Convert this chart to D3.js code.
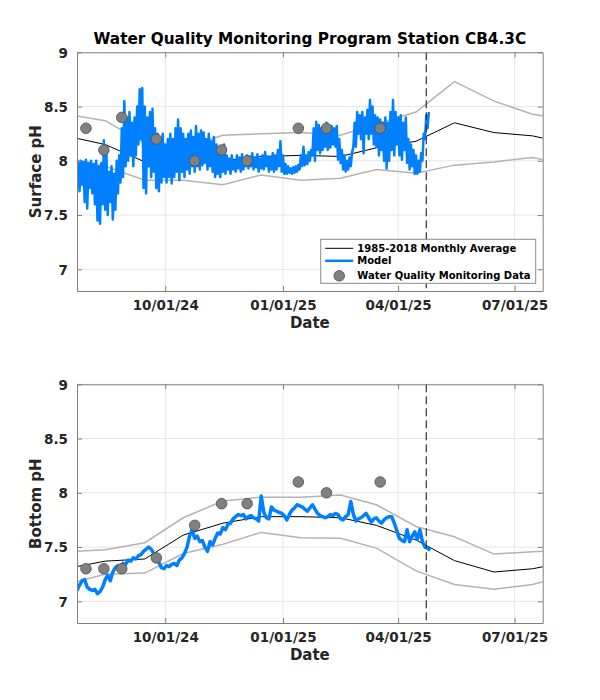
<!DOCTYPE html>
<html>
<head>
<meta charset="utf-8">
<script src="https://cdn.jsdelivr.net/npm/d3@7"></script>
<style>
html,body{margin:0;padding:0;background:#fff;}
svg{display:block;font-family:"DejaVu Sans",sans-serif;}
</style>
</head>
<body>
<svg id="chart" width="600" height="700"></svg>
<script>
// ---------------- DATA ----------------
const titleText = "Water Quality Monitoring Program Station CB4.3C";
const xDomain = ["2024-07-24", "2025-07-23"];
const xTickDates = ["2024-10-01", "2025-01-01", "2025-04-01", "2025-07-01"];
const yTicks = [7, 7.5, 8, 8.5, 9];
const yDomain = [6.8, 9];
const forecastDate = "2025-04-23";

// Monthly climatology (Jan..Dec), 1985-2018
const surfMean  = [8.05, 8.04, 8.12, 8.18, 8.35, 8.26, 8.23, 8.15, 7.99, 7.98, 8.00, 8.04];
const surfUpper = [8.26, 8.235, 8.34, 8.45, 8.73, 8.55, 8.43, 8.37, 8.16, 8.12, 8.235, 8.25];
const surfLower = [7.82, 7.84, 7.92, 7.885, 7.96, 7.99, 8.03, 7.95, 7.82, 7.82, 7.78, 7.87];
const botMean   = [7.78, 7.77, 7.70, 7.565, 7.375, 7.27, 7.30, 7.37, 7.39, 7.61, 7.72, 7.78];
const botUpper  = [7.96, 7.98, 7.89, 7.69, 7.595, 7.435, 7.457, 7.475, 7.54, 7.77, 7.925, 7.96];
const botLower  = [7.585, 7.58, 7.49, 7.28, 7.155, 7.11, 7.155, 7.25, 7.26, 7.44, 7.525, 7.635];

// Monitoring observations
const obsDates = ["2024-07-31", "2024-08-14", "2024-08-28", "2024-09-24", "2024-10-24",
                  "2024-11-14", "2024-12-04", "2025-01-13", "2025-02-04", "2025-03-18"];
const surfObs = [8.3, 8.1, 8.4, 8.2, 8.0, 8.1, 8.0, 8.3, 8.3, 8.3];
const botObs  = [7.3, 7.3, 7.3, 7.4, 7.7, 7.9, 7.9, 8.1, 8.0, 8.1];

// Model output, starting 2024-07-24, one low/high pair every 2 days
const modelStart = "2024-07-24";
const surfModelLo = [7.75,7.72,7.78,7.62,7.56,7.75,7.70,7.60,7.45,7.42,
  7.60,7.55,7.50,7.62,7.46,7.55,7.70,7.80,7.85,7.95,
  8.00,8.05,7.95,8.05,8.15,8.20,7.75,7.70,7.95,7.85,
  7.90,7.75,7.72,7.80,7.85,7.80,7.85,7.79,7.85,7.90,
  7.82,7.90,7.85,7.92,7.88,7.95,7.90,7.95,7.92,7.96,
  7.98,7.92,7.95,7.90,7.85,7.88,7.85,7.90,7.88,7.92,
  7.88,7.92,7.90,7.93,7.90,7.92,7.95,7.93,7.95,7.92,
  7.94,7.90,7.93,7.92,7.95,7.90,7.92,7.90,7.92,7.95,
  7.90,7.88,7.88,7.89,7.88,7.89,7.90,7.92,7.95,7.96,
  7.97,8.00,8.05,8.00,8.10,8.07,8.10,8.13,8.10,8.12,
  8.15,8.13,8.01,7.98,7.92,7.90,7.92,7.95,8.13,8.13,
  8.25,8.20,8.07,8.25,8.20,8.25,8.15,8.13,8.05,8.10,
  8.00,7.93,8.00,8.10,8.05,8.15,8.05,8.01,8.10,7.98,
  7.92,7.95,7.88,7.88,7.90,8.00,8.20,8.30];
const surfModelHi = [7.98,8.00,7.99,8.01,7.98,8.00,7.97,8.00,7.95,7.98,
  8.19,8.10,7.90,7.95,7.88,8.00,8.05,8.30,8.55,8.40,
  8.45,8.35,8.40,8.50,8.66,8.67,8.50,8.40,8.45,8.48,
  8.30,8.25,8.20,8.25,8.15,8.20,8.25,8.20,8.30,8.38,
  8.30,8.25,8.20,8.25,8.28,8.22,8.32,8.25,8.28,8.26,
  8.20,8.25,8.18,8.22,8.15,8.10,8.08,8.15,8.05,8.02,
  8.05,8.00,8.05,8.03,8.06,8.02,8.05,8.04,8.07,8.03,
  8.06,8.02,8.05,8.08,8.04,8.03,8.07,8.05,8.10,8.18,
  8.05,7.97,7.95,7.93,7.94,7.95,7.96,8.05,8.13,8.05,
  8.08,8.10,8.30,8.36,8.33,8.30,8.32,8.35,8.28,8.32,
  8.30,8.32,8.20,8.10,8.05,8.00,8.03,8.08,8.35,8.45,
  8.42,8.45,8.40,8.47,8.56,8.50,8.42,8.40,8.38,8.35,
  8.40,8.35,8.45,8.56,8.45,8.40,8.42,8.35,8.40,8.20,
  8.15,8.10,8.05,8.00,8.07,8.25,8.42,8.45];
// Bottom model, one value every 2 days
const botModel = [7.10,7.15,7.19,7.20,7.13,7.11,7.10,7.11,7.07,7.09,
  7.13,7.20,7.24,7.19,7.27,7.31,7.33,7.30,7.35,7.34,
  7.38,7.37,7.40,7.39,7.42,7.43,7.46,7.48,7.50,7.48,
  7.44,7.40,7.36,7.31,7.30,7.33,7.32,7.34,7.35,7.33,
  7.38,7.40,7.44,7.50,7.60,7.66,7.58,7.60,7.55,7.56,
  7.50,7.46,7.55,7.52,7.58,7.63,7.62,7.68,7.66,7.71,
  7.72,7.76,7.78,7.80,7.79,7.80,7.76,7.78,7.79,7.77,
  7.76,7.74,7.97,7.82,7.77,7.76,7.87,7.84,7.83,7.82,
  7.81,7.79,7.75,7.80,7.84,7.86,7.89,7.88,7.87,7.85,
  7.83,7.86,7.89,7.85,7.81,7.79,7.78,7.77,7.78,7.80,
  7.79,7.81,7.80,7.76,7.75,7.78,7.80,7.92,7.80,7.74,
  7.76,7.77,7.79,7.81,7.77,7.73,7.76,7.77,7.74,7.72,
  7.75,7.77,7.78,7.78,7.72,7.65,7.58,7.56,7.55,7.66,
  7.55,7.60,7.64,7.57,7.66,7.55,7.50,7.49,7.47];

const legendLabels = ["1985-2018 Monthly Average", "Model", "Water Quality Monitoring Data"];

// ---------------- BUILD ----------------
const parse = d3.utcParse("%Y-%m-%d");
const DAY = 86400000;
const t0 = parse(modelStart).getTime();

function monthlySeries(arr) {
  const out = [];
  for (let i = 0; i < 14; i++) {       // Jul 2024 .. Aug 2025
    const m = 6 + i;
    const date = new Date(Date.UTC(2024 + Math.floor(m / 12), m % 12, 15));
    out.push({date, v: arr[m % 12]});
  }
  return out;
}
function zigzag(lo, hi) {
  const out = [];
  for (let k = 0; k < lo.length; k++) {
    out.push({date: new Date(t0 + (2 * k) * DAY), v: lo[k]});
    out.push({date: new Date(t0 + (2 * k + 1) * DAY), v: hi[k]});
  }
  return out;
}
const surfModel = zigzag(surfModelLo, surfModelHi);
const botModelS = botModel.map((v, k) => ({date: new Date(t0 + 2 * k * DAY), v}));

const svg = d3.select("#chart");
const W = 600;
const left = 77, right = 542.7;
const x = d3.scaleUtc().domain(xDomain.map(parse)).range([left, right]);
const axisCol = "#808080", textCol = "#262626";

svg.append("text").attr("x", (left + right) / 2).attr("y", 44)
  .attr("text-anchor", "middle").attr("font-weight", "bold").attr("font-size", 15.3)
  .attr("fill", "#000").text(titleText);

function panel(top, bottom, ylabel, mean, upper, lower, modelData, modelWidth, obs, id, withLegend) {
  const y = d3.scaleLinear().domain(yDomain).range([bottom, top]);
  const g = svg.append("g");
  g.append("clipPath").attr("id", id).append("rect")
    .attr("x", left).attr("y", top).attr("width", right - left).attr("height", bottom - top);
  // grid
  g.append("g").selectAll("line").data(xTickDates.map(parse)).join("line")
    .attr("x1", d => x(d)).attr("x2", d => x(d)).attr("y1", top).attr("y2", bottom)
    .attr("stroke", "#e6e6e6").attr("stroke-width", 1);
  g.append("g").selectAll("line").data(yTicks).join("line")
    .attr("x1", left).attr("x2", right).attr("y1", d => y(d)).attr("y2", d => y(d))
    .attr("stroke", "#e6e6e6").attr("stroke-width", 1);

  const plot = g.append("g").attr("clip-path", `url(#${id})`);
  const line = d3.line().x(d => x(d.date)).y(d => y(d.v));
  [[upper, "#b3b3b3", 1.5], [lower, "#b3b3b3", 1.5], [mean, "#000", 1]].forEach(([arr, c, w]) => {
    plot.append("path").datum(monthlySeries(arr)).attr("d", line)
      .attr("fill", "none").attr("stroke", c).attr("stroke-width", w);
  });
  plot.append("path").datum(modelData).attr("d", line)
    .attr("fill", "none").attr("stroke", "#0080ff").attr("stroke-width", modelWidth)
    .attr("stroke-linejoin", "round");
  plot.selectAll("circle").data(obs).join("circle")
    .attr("cx", (d, i) => x(parse(obsDates[i]))).attr("cy", d => y(d)).attr("r", 5.3)
    .attr("fill", "#808080").attr("stroke", "#4d4d4d").attr("stroke-width", 0.8);
  // forecast divider
  g.append("line").attr("x1", x(parse(forecastDate))).attr("x2", x(parse(forecastDate)))
    .attr("y1", top).attr("y2", bottom).attr("stroke", "#333").attr("stroke-width", 1.2)
    .attr("stroke-dasharray", "8,4");

  // axes
  const fmt = d3.utcFormat("%m/%d/%y");
  const xb = g.append("g").attr("transform", `translate(0,${bottom})`)
    .call(d3.axisBottom(x).tickValues(xTickDates.map(parse)).tickFormat(fmt)
      .tickSizeInner(-5).tickSizeOuter(0).tickPadding(9));
  const xt = g.append("g").attr("transform", `translate(0,${top})`)
    .call(d3.axisTop(x).tickValues(xTickDates.map(parse)).tickFormat("")
      .tickSizeInner(-5).tickSizeOuter(0));
  const yl = g.append("g").attr("transform", `translate(${left},0)`)
    .call(d3.axisLeft(y).tickValues(yTicks).tickFormat(d3.format("~g"))
      .tickSizeInner(-5).tickSizeOuter(0).tickPadding(9));
  const yr = g.append("g").attr("transform", `translate(${right},0)`)
    .call(d3.axisRight(y).tickValues(yTicks).tickFormat("")
      .tickSizeInner(-5).tickSizeOuter(0));
  [xb, xt, yl, yr].forEach(a => {
    a.select(".domain").attr("stroke", axisCol);
    a.selectAll(".tick line").attr("stroke", axisCol);
    a.selectAll("text").attr("fill", textCol).attr("font-size", 13.5)
      .attr("font-weight", "bold").attr("font-family", "DejaVu Sans");
  });
  yl.selectAll("text").attr("dy", "0.36em");

  g.append("text").attr("x", (left + right) / 2).attr("y", bottom + 37)
    .attr("text-anchor", "middle").attr("font-weight", "bold").attr("font-size", 15)
    .attr("fill", textCol).text("Date");
  g.append("text").attr("transform", `translate(41,${(top + bottom) / 2}) rotate(-90)`)
    .attr("text-anchor", "middle").attr("font-weight", "bold").attr("font-size", 15)
    .attr("fill", textCol).text(ylabel);

  if (withLegend) {
    const lx = 320.7, ly = 239.3, lw = 215, lh = 44;
    const lg = g.append("g");
    lg.append("rect").attr("x", lx).attr("y", ly).attr("width", lw).attr("height", lh)
      .attr("fill", "#fff").attr("stroke", "#8c8c8c").attr("stroke-width", 1);
    const rows = [ly + 9, ly + 21.5, ly + 36.5];
    lg.append("line").attr("x1", lx + 4.5).attr("x2", lx + 32.5).attr("y1", rows[0]).attr("y2", rows[0])
      .attr("stroke", "#000").attr("stroke-width", 1);
    lg.append("line").attr("x1", lx + 4.5).attr("x2", lx + 32.5).attr("y1", rows[1]).attr("y2", rows[1])
      .attr("stroke", "#0080ff").attr("stroke-width", 2.5);
    lg.append("circle").attr("cx", lx + 18.5).attr("cy", rows[2]).attr("r", 5.3)
      .attr("fill", "#808080").attr("stroke", "#4d4d4d").attr("stroke-width", 0.8);
    lg.selectAll("text").data(legendLabels).join("text")
      .attr("x", lx + 36.6).attr("y", (d, i) => rows[i]).attr("dy", "0.36em")
      .attr("font-size", 10).attr("font-weight", "bold").attr("fill", "#000").text(d => d);
  }
}

panel(52.3, 291, "Surface pH", surfMean, surfUpper, surfLower, surfModel, 2.5, surfObs, "clipTop", true);
panel(384.3, 623, "Bottom pH", botMean, botUpper, botLower, botModelS, 3.5, botObs, "clipBot", false);
</script>
</body>
</html>
